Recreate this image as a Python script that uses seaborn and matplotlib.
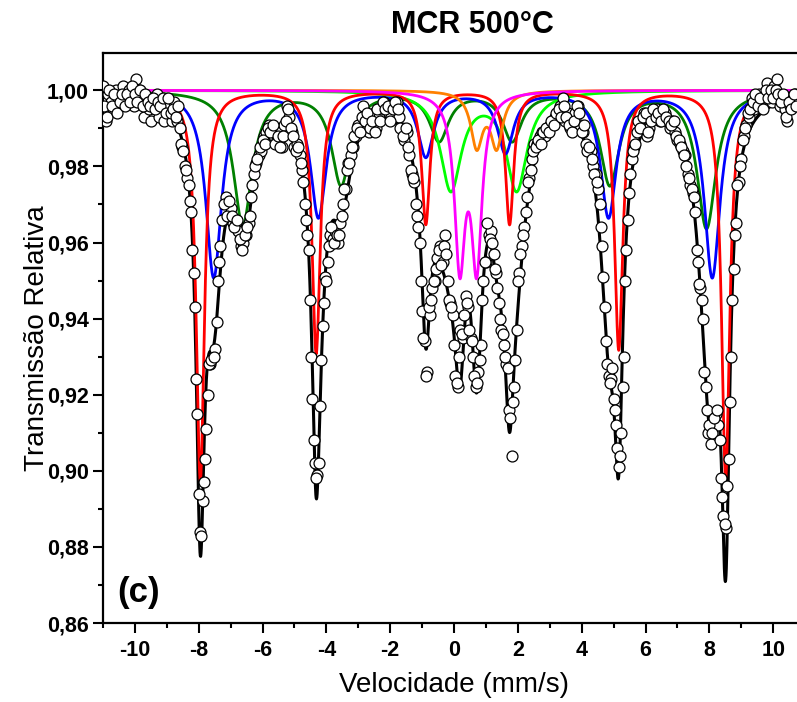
import numpy as np
import seaborn as sns
import matplotlib.pyplot as plt
from matplotlib.ticker import MultipleLocator, FuncFormatter

sns.set_theme(style='ticks')
plt.rcParams['font.family'] = ['Liberation Sans', 'DejaVu Sans']
plt.rcParams['text.color'] = 'black'
plt.rcParams['axes.labelcolor'] = 'black'
plt.rcParams['xtick.color'] = 'black'
plt.rcParams['ytick.color'] = 'black'

# measured spectrum: two interleaved sets of velocity channels
vel_a = np.linspace(-11.0, 10.76, 273)
trans_a = [
    1.001, 0.992, 0.999, 0.997, 0.995, 1.000, 0.998, 0.997, 1.001, 0.998,
    1.000, 0.999, 0.996, 1.003, 1.000, 0.998, 0.993, 0.998, 0.995, 0.992,
    0.998, 0.999, 0.993, 0.996, 0.992, 0.997, 0.996, 0.992, 0.997, 0.992,
    0.990, 0.985, 0.980, 0.977, 0.971, 0.958, 0.943, 0.915, 0.884, 0.892,
    0.903, 0.920, 0.928, 0.930, 0.932, 0.950, 0.959, 0.966, 0.972, 0.970,
    0.969, 0.965, 0.965, 0.963, 0.959, 0.960, 0.962, 0.965, 0.972, 0.978,
    0.981, 0.983, 0.984, 0.988, 0.989, 0.991, 0.990, 0.988, 0.987, 0.986,
    0.985, 0.991, 0.996, 0.993, 0.989, 0.985, 0.986, 0.983, 0.979, 0.970,
    0.962, 0.945, 0.919, 0.902, 0.899, 0.917, 0.938, 0.951, 0.955, 0.962,
    0.961, 0.963, 0.960, 0.965, 0.970, 0.974, 0.981, 0.983, 0.985, 0.988,
    0.991, 0.990, 0.996, 0.992, 0.989, 0.991, 0.994, 0.990, 0.993, 0.995,
    0.997, 0.996, 0.994, 0.993, 0.995, 0.997, 0.993, 0.990, 0.987, 0.989,
    0.983, 0.978, 0.976, 0.967, 0.960, 0.942, 0.934, 0.926, 0.941, 0.948,
    0.950, 0.956, 0.959, 0.955, 0.962, 0.950, 0.944, 0.941, 0.925, 0.922,
    0.937, 0.935, 0.946, 0.943, 0.935, 0.930, 0.922, 0.926, 0.933, 0.950,
    0.955, 0.962, 0.963, 0.957, 0.952, 0.944, 0.937, 0.933, 0.928, 0.916,
    0.904, 0.922, 0.937, 0.952, 0.959, 0.964, 0.972, 0.977, 0.982, 0.986,
    0.986, 0.988, 0.989, 0.988, 0.990, 0.991, 0.992, 0.993, 0.993, 0.996,
    0.998, 0.992, 0.994, 0.990, 0.990, 0.994, 0.996, 0.991, 0.989, 0.986,
    0.984, 0.984, 0.980, 0.978, 0.974, 0.964, 0.951, 0.934, 0.925, 0.924,
    0.919, 0.912, 0.901, 0.910, 0.930, 0.958, 0.973, 0.982, 0.985, 0.989,
    0.992, 0.990, 0.994, 0.988, 0.990, 0.993, 0.994, 0.995, 0.992, 0.994,
    0.994, 0.992, 0.990, 0.992, 0.989, 0.987, 0.986, 0.984, 0.983, 0.978,
    0.975, 0.973, 0.968, 0.955, 0.948, 0.940, 0.922, 0.910, 0.907, 0.913,
    0.915, 0.912, 0.898, 0.888, 0.885, 0.903, 0.930, 0.953, 0.965, 0.976,
    0.982, 0.988, 0.991, 0.993, 0.998, 0.995, 0.997, 0.999, 0.996, 0.998,
    1.002, 0.999, 0.997, 1.001, 1.003, 0.996, 0.998, 0.995, 0.992, 0.996,
    0.998, 0.999, 0.997,
]

vel_b = np.linspace(-10.96, 10.72, 272)
trans_b = [
    0.996, 0.993, 1.000, 0.996, 0.999, 0.994, 0.997, 0.999, 0.996, 0.999,
    0.997, 1.001, 0.999, 0.997, 1.000, 0.996, 0.999, 0.997, 0.996, 0.998,
    0.995, 0.997, 0.996, 0.998, 0.994, 0.998, 0.994, 0.995, 0.993, 0.996,
    0.986, 0.984, 0.979, 0.975, 0.968, 0.952, 0.924, 0.894, 0.883, 0.897,
    0.911, 0.928, 0.929, 0.930, 0.939, 0.955, 0.966, 0.970, 0.967, 0.971,
    0.967, 0.964, 0.966, 0.961, 0.958, 0.962, 0.964, 0.967, 0.975, 0.980,
    0.982, 0.985, 0.987, 0.986, 0.990, 0.989, 0.991, 0.986, 0.988, 0.985,
    0.988, 0.992, 0.995, 0.990, 0.988, 0.984, 0.985, 0.981, 0.976, 0.966,
    0.958, 0.930, 0.908, 0.898, 0.902, 0.929, 0.944, 0.950, 0.959, 0.964,
    0.960, 0.962, 0.962, 0.967, 0.974, 0.979, 0.981, 0.985, 0.988, 0.990,
    0.989, 0.993, 0.992, 0.994, 0.990, 0.992, 0.989, 0.995, 0.992, 0.997,
    0.995, 0.996, 0.992, 0.995, 0.997, 0.995, 0.990, 0.988, 0.990, 0.985,
    0.979, 0.977, 0.970, 0.964, 0.950, 0.935, 0.925, 0.943, 0.945, 0.950,
    0.953, 0.958, 0.954, 0.959, 0.957, 0.945, 0.943, 0.933, 0.923, 0.930,
    0.936, 0.941, 0.944, 0.937, 0.934, 0.925, 0.923, 0.929, 0.945, 0.955,
    0.965, 0.961, 0.960, 0.953, 0.948, 0.940, 0.936, 0.930, 0.927, 0.914,
    0.918, 0.929, 0.950, 0.957, 0.962, 0.968, 0.976, 0.979, 0.984, 0.985,
    0.987, 0.986, 0.989, 0.990, 0.989, 0.992, 0.991, 0.994, 0.995, 0.993,
    0.996, 0.993, 0.991, 0.989, 0.992, 0.996, 0.994, 0.989, 0.991, 0.984,
    0.985, 0.982, 0.978, 0.976, 0.970, 0.959, 0.943, 0.928, 0.923, 0.927,
    0.916, 0.906, 0.904, 0.922, 0.950, 0.966, 0.978, 0.984, 0.986, 0.992,
    0.990, 0.993, 0.994, 0.989, 0.992, 0.995, 0.993, 0.994, 0.992, 0.995,
    0.993, 0.992, 0.991, 0.992, 0.988, 0.987, 0.985, 0.983, 0.980, 0.977,
    0.974, 0.972, 0.958, 0.949, 0.945, 0.926, 0.916, 0.912, 0.910, 0.914,
    0.916, 0.908, 0.893, 0.886, 0.896, 0.918, 0.945, 0.962, 0.975, 0.980,
    0.987, 0.990, 0.994, 0.995, 0.997, 0.999, 0.996, 0.998, 0.995, 1.000,
    0.998, 1.000, 0.998, 1.000, 0.999, 0.997, 0.999, 0.993, 0.997, 0.995,
    0.999, 0.996,
]

# fitted subspectra: line positions (mm/s), line depths, half width
red_pos = [-7.95, -4.32, -0.885, 1.74, 5.16, 8.51]
red_depth = [0.1025, 0.069, 0.035, 0.035, 0.068, 0.1016]
red_hw = 0.155

blue_pos = [-7.53, -4.25, -0.885, 1.61, 4.84, 8.09]
blue_depth = [0.049, 0.033, 0.017, 0.016, 0.033, 0.049]
blue_hw = 0.30

green_pos = [-6.62, -3.54, -0.47, 1.82, 4.88, 7.91]
green_depth = [0.035, 0.0244, 0.0127, 0.0127, 0.0244, 0.036]
green_hw = 0.36

lime_pos = [-0.10, 1.96]
lime_depth = [0.0258, 0.0258]
lime_hw = 0.40

orange_pos = [0.71, 1.335]
orange_depth = [0.0142, 0.0142]
orange_hw = 0.225

magenta_pos = [0.18, 0.71]
magenta_depth = [0.044, 0.044]
magenta_hw = 0.20


def absorption(v, pos, depth, hw):
    out = np.zeros_like(v)
    for p, d in zip(pos, depth):
        out += d * hw ** 2 / ((v - p) ** 2 + hw ** 2)
    return out


v = np.linspace(-11, 11, 2201)
comps = [
    ('#008000', green_pos, green_depth, green_hw),
    ('#00FF00', lime_pos, lime_depth, lime_hw),
    ('#0000FF', blue_pos, blue_depth, blue_hw),
    ('#FF0000', red_pos, red_depth, red_hw),
    ('#FF8000', orange_pos, orange_depth, orange_hw),
    ('#FF00FF', magenta_pos, magenta_depth, magenta_hw),
]
total = np.ones_like(v)
for c, p, d, w in comps:
    total -= absorption(v, p, d, w)

fig = plt.figure(figsize=(7.97, 7.02), dpi=100)
ax = fig.add_axes([0.1292, 0.1125, 0.881, 0.812])

sns.lineplot(x=v, y=total, color='black', lw=2.2, sort=False, estimator=None, ax=ax, zorder=2)
for c, p, d, w in comps:
    sns.lineplot(x=v, y=1 - absorption(v, p, d, w), color=c, lw=2.0,
                 sort=False, estimator=None, ax=ax, zorder=3)
for vx, ty in [(vel_a, trans_a), (vel_b, trans_b)]:
    sns.scatterplot(x=vx, y=ty, s=62, color='white', edgecolor='black',
                    linewidth=0.9, ax=ax, zorder=4)

ax.set_xlim(-11, 11)
ax.set_ylim(0.86, 1.0098)
ax.xaxis.set_major_locator(MultipleLocator(2))
ax.xaxis.set_minor_locator(MultipleLocator(1))
ax.yaxis.set_major_locator(MultipleLocator(0.02))
ax.yaxis.set_minor_locator(MultipleLocator(0.01))
ax.yaxis.set_major_formatter(FuncFormatter(lambda y, p: f'{y:.2f}'.replace('.', ',')))
ax.xaxis.set_major_formatter(FuncFormatter(lambda x, p: f'{x:.0f}'))
ax.tick_params(which='major', direction='out', length=7, width=1.5, labelsize=15.5, pad=5)
ax.tick_params(which='minor', direction='out', length=3.6, width=1.5)
ax.tick_params(axis='y', pad=3)
for lab in ax.get_xticklabels() + ax.get_yticklabels():
    lab.set_fontweight('bold')
for s in ax.spines.values():
    s.set_linewidth(1.6)
    s.set_color('black')

ax.set_xlabel('Velocidade (mm/s)', fontsize=20, labelpad=8)
ax.set_ylabel('Transmissão Relativa', fontsize=20, labelpad=-2)
ax.text(-9.9, 0.868, '(c)', fontsize=25, fontweight='bold', ha='center', va='center')
fig.text(472 / 797, 1 - 25 / 702, 'MCR 500°C', ha='center', va='center',
         fontsize=22, fontweight='bold')

fig.savefig('out.png', dpi=100)
